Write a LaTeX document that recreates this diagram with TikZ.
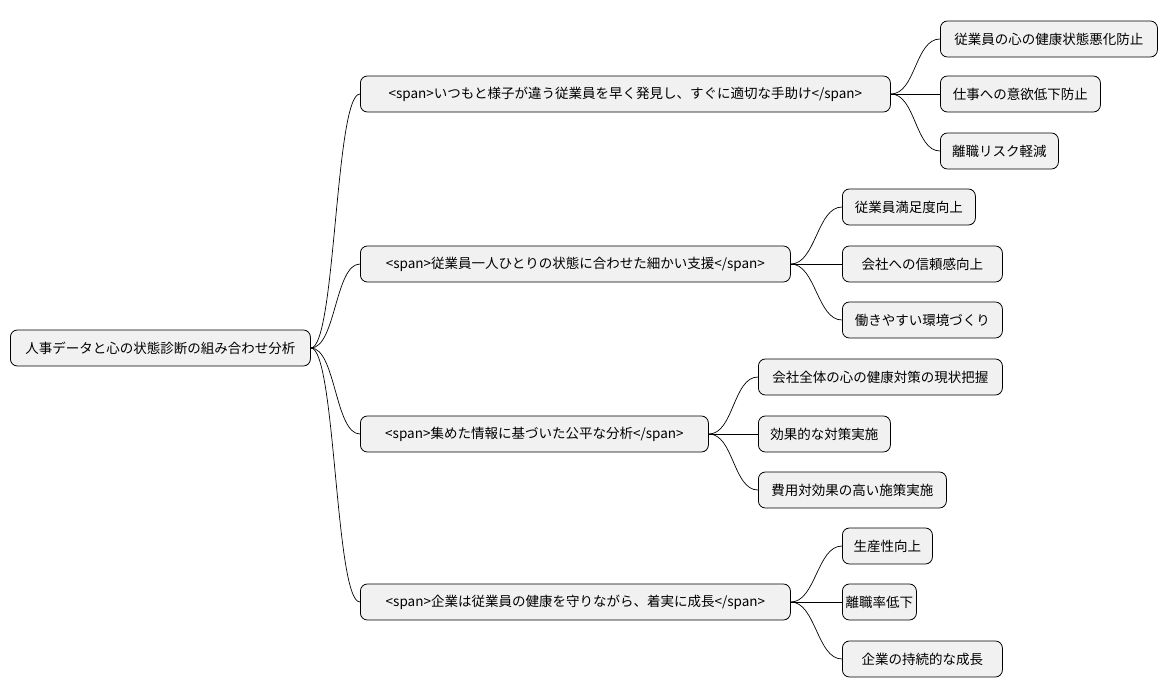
\documentclass[tikz,border=0pt]{standalone}
\usepackage{fontspec}
\setmainfont{Noto Sans CJK JP}
\begin{document}
\begin{tikzpicture}[x=1pt,y=-1pt,
  box/.style={draw=black,fill=black!5.5,rounded corners=7pt,minimum height=36pt,inner xsep=2pt,anchor=west,font=\fontsize{13.5pt}{15pt}\selectfont,line width=0.8pt,minimum width=#1},
  ln/.style={draw=black,line width=0.7pt}]
\useasboundingbox (0,0) rectangle (1167,696);
\node[box=300pt] (r) at (10,348) {人事データと心の状態診断の組み合わせ分析};
\node[box=530pt] (a) at (360,94) {<span>いつもと様子が違う従業員を早く発見し、すぐに適切な手助け</span>};
\node[box=430pt] (b) at (360,264) {<span>従業員一人ひとりの状態に合わせた細かい支援</span>};
\node[box=348pt] (c) at (360,434) {<span>集めた情報に基づいた公平な分析</span>};
\node[box=430pt] (d) at (360,602) {<span>企業は従業員の健康を守りながら、着実に成長</span>};
\node[box=217pt] (a1) at (940,39) {従業員の心の健康状態悪化防止};
\node[box=160pt] (a2) at (940,94) {仕事への意欲低下防止};
\node[box=118pt] (a3) at (940,151) {離職リスク軽減};
\node[box=133pt] (b1) at (842,207) {従業員満足度向上};
\node[box=160pt] (b2) at (842,264) {会社への信頼感向上};
\node[box=160pt] (b3) at (842,320) {働きやすい環境づくり};
\node[box=244pt] (c1) at (758,377) {会社全体の心の健康対策の現状把握};
\node[box=132pt] (c2) at (758,434) {効果的な対策実施};
\node[box=188pt] (c3) at (758,490) {費用対効果の高い施策実施};
\node[box=90pt] (d1) at (842,546) {生産性向上};
\node[box=74pt] (d2) at (842,602) {離職率低下};
\node[box=160pt] (d3) at (842,659) {企業の持続的な成長};
\foreach \p/\c in {r/a,r/b,r/c,r/d,a/a1,a/a2,a/a3,b/b1,b/b2,b/b3,c/c1,c/c2,c/c3,d/d1,d/d2,d/d3}
  \draw[ln] (\p.east) .. controls +(25,0) and +(-25,0) .. (\c.west);
\end{tikzpicture}
\end{document}
